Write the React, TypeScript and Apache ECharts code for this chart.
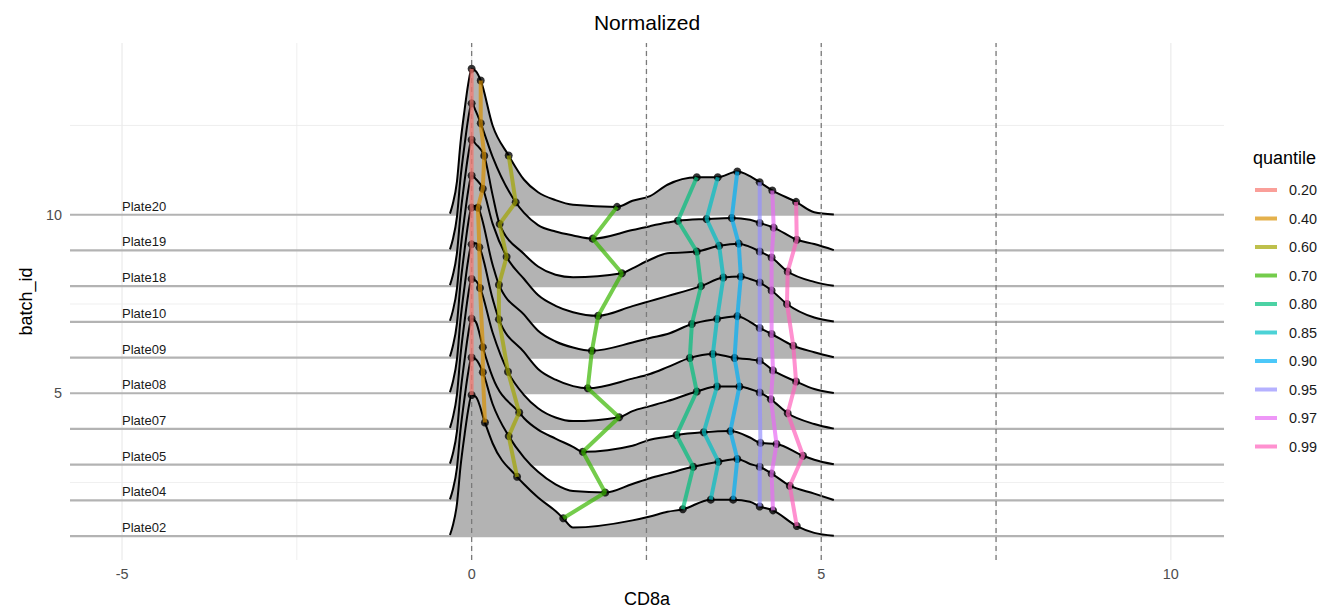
import React, { useEffect, useRef } from "react";
import * as echarts from "echarts";

const FONT = '"Liberation Sans", Arial, Helvetica, sans-serif';

const PLATES = ["Plate02", "Plate04", "Plate05", "Plate07", "Plate08", "Plate09", "Plate10", "Plate18", "Plate19", "Plate20"];
const BATCH_IDS = [1, 2, 3, 4, 5, 6, 7, 8, 9, 10];

const X_MIN = -5.744;
const X_MAX = 10.76;
const Y_MIN = 0.33;
const Y_MAX = 14.81;
const X_TICKS = [-5, 0, 5, 10];
const Y_TICKS = [5, 10];
const X_MAJOR_GRID = [-5, 0, 5, 10];
const X_MINOR_GRID = [-2.5, 2.5, 7.5];
const Y_MINOR_GRID = [2.5, 7.5, 12.5];
const DASHED_X = [0, 2.5, 5, 7.5];

const QUANTILES = ["0.20", "0.40", "0.60", "0.70", "0.80", "0.85", "0.90", "0.95", "0.97", "0.99"];
const Q_COLORS = ["#F8766D", "#D89000", "#A3A500", "#39B600", "#00BF7D", "#00BFC4", "#00B0F6", "#9590FF", "#E76BF3", "#FF62BC"];

// quantile positions (x) and ridge heights there, ordered like PLATES
const Q020_X = [0, 0, 0, 0, 0, 0, 0, 0, 0, 0];
const Q020_H = [3.95, 4.0, 4.09, 4.2, 4.17, 4.2, 4.1, 4.1, 4.12, 4.09];
const Q040_X = [0.19, 0.16, 0.16, 0.12, 0.11, 0.09, 0.16, 0.18, 0.13, 0.13];
const Q040_H = [3.18, 3.59, 3.29, 3.95, 4.09, 4.2, 3.73, 3.65, 3.56, 3.76];
const Q060_X = [0.65, 0.53, 0.68, 0.52, 0.39, 0.39, 0.5, 0.4, 0.63, 0.53];
const Q060_H = [1.66, 1.8, 1.46, 1.6, 2.07, 2.04, 1.82, 1.74, 1.35, 1.66];
const Q070_X = [1.31, 1.91, 1.59, 2.11, 1.66, 1.72, 1.81, 2.15, 1.73, 2.08];
const Q070_H = [0.5, 0.22, 0.36, 0.33, 0.14, 0.19, 0.17, 0.36, 0.33, 0.22];
const Q080_X = [3.02, 3.17, 2.93, 3.22, 3.12, 3.15, 3.28, 3.22, 2.95, 3.22];
const Q080_H = [0.75, 0.94, 0.83, 1.05, 0.99, 0.94, 1.0, 0.97, 0.83, 1.05];
const Q085_X = [3.42, 3.53, 3.32, 3.51, 3.45, 3.51, 3.6, 3.54, 3.36, 3.52];
const Q085_H = [1.02, 1.08, 0.91, 1.19, 1.1, 1.08, 1.24, 1.13, 0.88, 1.05];
const Q090_X = [3.74, 3.8, 3.7, 3.83, 3.76, 3.8, 3.85, 3.82, 3.72, 3.8];
const Q090_H = [1.02, 1.16, 0.94, 1.19, 0.99, 1.16, 1.27, 1.19, 0.91, 1.21];
const Q095_X = [4.12, 4.12, 4.13, 4.12, 4.12, 4.12, 4.12, 4.12, 4.12, 4.12];
const Q095_H = [0.83, 0.94, 0.61, 1.02, 0.91, 0.83, 1.1, 0.97, 0.77, 0.91];
const Q097_X = [4.31, 4.29, 4.36, 4.28, 4.31, 4.29, 4.29, 4.29, 4.32, 4.3];
const Q097_H = [0.72, 0.75, 0.58, 0.83, 0.64, 0.66, 0.88, 0.8, 0.64, 0.68];
const Q099_X = [4.65, 4.55, 4.74, 4.52, 4.64, 4.6, 4.51, 4.52, 4.65, 4.64];
const Q099_H = [0.28, 0.41, 0.25, 0.44, 0.33, 0.33, 0.5, 0.41, 0.3, 0.36];

// ridge outline knots (x) and heights per plate
const SHAPE_X = [-0.31, -0.27, -0.21, -0.16, -0.1, -0.05, 0.06, 0.3, 0.75, 0.95, 1.2, 1.45, 2.3, 2.55, 2.8, 3.98, 4.9, 5.18];
const P02_H = [0.03, 0.29, 0.9, 1.93, 2.85, 3.52, 3.9, 2.6, 1.45, 1.08, 0.7, 0.24, 0.44, 0.55, 0.68, 0.96, 0.09, 0.01];
const P04_H = [0.03, 0.29, 0.91, 1.96, 2.89, 3.57, 3.95, 2.7, 1.2, 0.8, 0.45, 0.26, 0.46, 0.62, 0.75, 1.02, 0.19, 0.01];
const P05_H = [0.03, 0.3, 0.93, 2.0, 2.95, 3.65, 4.0, 2.45, 1.3, 0.98, 0.73, 0.5, 0.53, 0.7, 0.78, 0.76, 0.14, 0.01];
const P07_H = [0.03, 0.31, 0.96, 2.05, 3.03, 3.75, 4.15, 2.7, 0.95, 0.58, 0.32, 0.22, 0.5, 0.64, 0.78, 1.12, 0.14, 0.01];
const P08_H = [0.03, 0.31, 0.95, 2.04, 3.01, 3.72, 4.2, 2.65, 1.15, 0.68, 0.38, 0.2, 0.41, 0.54, 0.73, 0.95, 0.12, 0.01];
const P09_H = [0.03, 0.31, 0.96, 2.05, 3.03, 3.75, 4.25, 2.6, 1.2, 0.75, 0.45, 0.28, 0.42, 0.55, 0.66, 1.0, 0.15, 0.01];
const P10_H = [0.03, 0.3, 0.93, 2.0, 2.96, 3.66, 4.0, 2.75, 1.2, 0.75, 0.45, 0.27, 0.44, 0.58, 0.72, 1.2, 0.12, 0.01];
const P18_H = [0.03, 0.3, 0.93, 2.0, 2.96, 3.66, 3.98, 2.55, 0.9, 0.55, 0.32, 0.25, 0.5, 0.74, 0.92, 1.1, 0.12, 0.01];
const P19_H = [0.03, 0.3, 0.94, 2.01, 2.97, 3.68, 3.9, 2.62, 1.05, 0.71, 0.53, 0.42, 0.57, 0.68, 0.78, 0.86, 0.18, 0.01];
const P20_H = [0.03, 0.3, 0.93, 2.0, 2.95, 3.65, 4.02, 2.5, 0.98, 0.63, 0.41, 0.28, 0.39, 0.52, 0.84, 1.08, 0.07, 0.01];

const RIDGE_H = [P02_H, P04_H, P05_H, P07_H, P08_H, P09_H, P10_H, P18_H, P19_H, P20_H];
const QX = [Q020_X, Q040_X, Q060_X, Q070_X, Q080_X, Q085_X, Q090_X, Q095_X, Q097_X, Q099_X];
const QH = [Q020_H, Q040_H, Q060_H, Q070_H, Q080_H, Q085_H, Q090_H, Q095_H, Q097_H, Q099_H];

function rgba(hex: string, a: number) {
  const r = parseInt(hex.slice(1, 3), 16);
  const g = parseInt(hex.slice(3, 5), 16);
  const b = parseInt(hex.slice(5, 7), 16);
  return `rgba(${r},${g},${b},${a})`;
}

function ridgeKnots(i: number): number[][] {
  const pts: number[][] = SHAPE_X.map((x, j) => [x, RIDGE_H[i][j]]);
  QX.forEach((arr, k) => pts.push([arr[i], QH[k][i]]));
  pts.sort((a, b) => a[0] - b[0]);
  const out: number[][] = [];
  pts.forEach((p) => {
    if (!out.length || p[0] - out[out.length - 1][0] > 1e-6) out.push(p);
  });
  return out;
}

function monoPath(p: number[][]): string {
  const n = p.length;
  const h: number[] = [];
  const s: number[] = [];
  const t: number[] = new Array(n).fill(0);
  for (let i = 0; i < n - 1; i++) {
    h[i] = p[i + 1][0] - p[i][0];
    s[i] = (p[i + 1][1] - p[i][1]) / h[i];
  }
  for (let i = 1; i < n - 1; i++) {
    const pp = (s[i - 1] * h[i] + s[i] * h[i - 1]) / (h[i - 1] + h[i]);
    t[i] = (Math.sign(s[i - 1]) + Math.sign(s[i])) * Math.min(Math.abs(s[i - 1]), Math.abs(s[i]), 0.5 * Math.abs(pp)) || 0;
  }
  t[0] = n > 2 ? (3 * s[0] - t[1]) / 2 : s[0];
  t[n - 1] = n > 2 ? (3 * s[n - 2] - t[n - 2]) / 2 : s[n - 2];
  let d = `M${p[0][0]},${p[0][1]}`;
  for (let i = 0; i < n - 1; i++) {
    const dx = h[i] / 3;
    d += ` C${p[i][0] + dx},${p[i][1] + t[i] * dx} ${p[i + 1][0] - dx},${p[i + 1][1] - t[i + 1] * dx} ${p[i + 1][0]},${p[i + 1][1]}`;
  }
  return d;
}

function buildOption() {
  const series: any[] = [];

  const vGrid = (vals: number[], width: number, z: number, color: string, dash?: number[]) => ({
    type: "custom",
    silent: true,
    z,
    data: vals.map((v) => [v, Y_MIN]),
    renderItem: (_p: any, api: any) => {
      const a = api.coord([api.value(0), Y_MIN]);
      const b = api.coord([api.value(0), Y_MAX]);
      return {
        type: "line",
        shape: { x1: a[0], y1: a[1], x2: b[0], y2: b[1] },
        style: { stroke: color, lineWidth: width, lineDash: dash || null, fill: null },
      };
    },
  });
  const hGrid = (vals: number[], width: number, z: number, color: string) => ({
    type: "custom",
    silent: true,
    z,
    data: vals.map((v) => [X_MIN, v]),
    renderItem: (_p: any, api: any) => {
      const a = api.coord([X_MIN, api.value(1)]);
      const b = api.coord([X_MAX, api.value(1)]);
      return {
        type: "line",
        shape: { x1: a[0], y1: a[1], x2: b[0], y2: b[1] },
        style: { stroke: color, lineWidth: width, fill: null },
      };
    },
  });
  series.push(vGrid(X_MAJOR_GRID, 1.2, 0, "#ebebeb"));
  series.push(vGrid(X_MINOR_GRID, 0.8, 0, "#ebebeb"));
  series.push(hGrid(Y_MINOR_GRID, 0.8, 0, "#ebebeb"));
  series.push(hGrid(BATCH_IDS, 2.2, 1, "#b3b3b3"));

  for (let i = PLATES.length - 1; i >= 0; i--) {
    const b = BATCH_IDS[i];
    const knots = ridgeKnots(i);
    series.push({
      type: "custom",
      silent: true,
      z: 2 + (PLATES.length - 1 - i),
      data: [[knots[0][0], b]],
      renderItem: (_p: any, api: any) => {
        const px = knots.map(([x, hh]) => api.coord([x, b + hh]));
        const line = monoPath(px);
        const s = api.coord([knots[0][0], b]);
        const e = api.coord([knots[knots.length - 1][0], b]);
        const fill = `${line} L${e[0]},${e[1]} L${s[0]},${s[1]} Z`;
        return {
          type: "group",
          children: [
            { type: "path", shape: { pathData: fill }, style: { fill: "#b3b3b3", stroke: null } },
            { type: "path", shape: { pathData: line }, style: { fill: null, stroke: "#000", lineWidth: 2 } },
          ],
        };
      },
    });
  }

  series.push({
    type: "custom",
    silent: true,
    z: 12,
    data: BATCH_IDS.map((b) => [-5, b]),
    renderItem: (p: any, api: any) => {
      const c = api.coord([api.value(0), api.value(1)]);
      return {
        type: "text",
        x: c[0],
        y: c[1] - 2,
        style: {
          text: PLATES[p.dataIndex],
          fill: "#1a1a1a",
          fontSize: 13,
          fontFamily: FONT,
          align: "left",
          verticalAlign: "bottom",
        },
      };
    },
  });

  series.push(vGrid(DASHED_X, 1.3, 15, "#7a7a7a", [5, 4]));

  const pts: number[][] = [];
  QX.forEach((arr, k) => arr.forEach((x, i) => pts.push([x, BATCH_IDS[i] + QH[k][i]])));
  series.push({
    type: "scatter",
    silent: true,
    z: 20,
    symbol: "circle",
    symbolSize: 8,
    itemStyle: { color: "#000" },
    data: pts,
  });

  QUANTILES.forEach((q, k) => {
    const col = rgba(Q_COLORS[k], 0.7);
    series.push({
      type: "line",
      name: q,
      z: 21,
      silent: true,
      color: col,
      showSymbol: false,
      symbol: "none",
      lineStyle: { width: 4, color: col },
      data: BATCH_IDS.map((b, i) => [QX[k][i], b + QH[k][i]]),
    });
  });

  return {
    animation: false,
    backgroundColor: "#ffffff",
    grid: { left: 70, right: 120, top: 43, bottom: 46, containLabel: false },
    xAxis: {
      type: "value",
      min: X_MIN,
      max: X_MAX,
      axisLine: { show: false },
      axisTick: { show: false },
      splitLine: { show: false },
      axisLabel: { customValues: X_TICKS, color: "#4d4d4d", fontSize: 14.4, fontFamily: FONT, margin: 7 },
      name: "CD8a",
      nameLocation: "middle",
      nameGap: 30,
      nameTextStyle: { color: "#000", fontSize: 18, fontFamily: FONT },
    },
    yAxis: {
      type: "value",
      min: Y_MIN,
      max: Y_MAX,
      axisLine: { show: false },
      axisTick: { show: false },
      splitLine: { show: false },
      axisLabel: { customValues: Y_TICKS, color: "#4d4d4d", fontSize: 14.4, fontFamily: FONT, margin: 8 },
      name: "batch_id",
      nameLocation: "middle",
      nameRotate: 90,
      nameGap: 27,
      nameTextStyle: { color: "#000", fontSize: 18, fontFamily: FONT },
    },
    legend: {
      orient: "vertical",
      left: 1250,
      top: 177,
      itemWidth: 22,
      itemHeight: 4,
      itemGap: 12.5,
      icon: "rect",
      selectedMode: false,
      data: QUANTILES,
      textStyle: { fontSize: 14.4, fontFamily: FONT, color: "#1a1a1a", lineHeight: 16, padding: [0, 0, 0, 7] },
    },
    graphic: [
      {
        type: "text",
        x: 647,
        y: 22,
        style: { text: "Normalized", fontSize: 21, fontFamily: FONT, fill: "#000", align: "center", verticalAlign: "middle" },
      },
      {
        type: "text",
        x: 1253,
        y: 158,
        style: { text: "quantile", fontSize: 18, fontFamily: FONT, fill: "#000", align: "left", verticalAlign: "middle" },
      },
    ],
    series,
  };
}

export default function App() {
  const ref = useRef<HTMLDivElement>(null);
  useEffect(() => {
    if (!ref.current) return;
    const chart = echarts.init(ref.current, null, { renderer: "svg" });
    chart.setOption(buildOption() as any);
    return () => chart.dispose();
  }, []);
  return (
    <div
      ref={ref}
      style={{ position: "absolute", left: 0, top: 0, width: 1344, height: 613, background: "#fff" }}
    />
  );
}
